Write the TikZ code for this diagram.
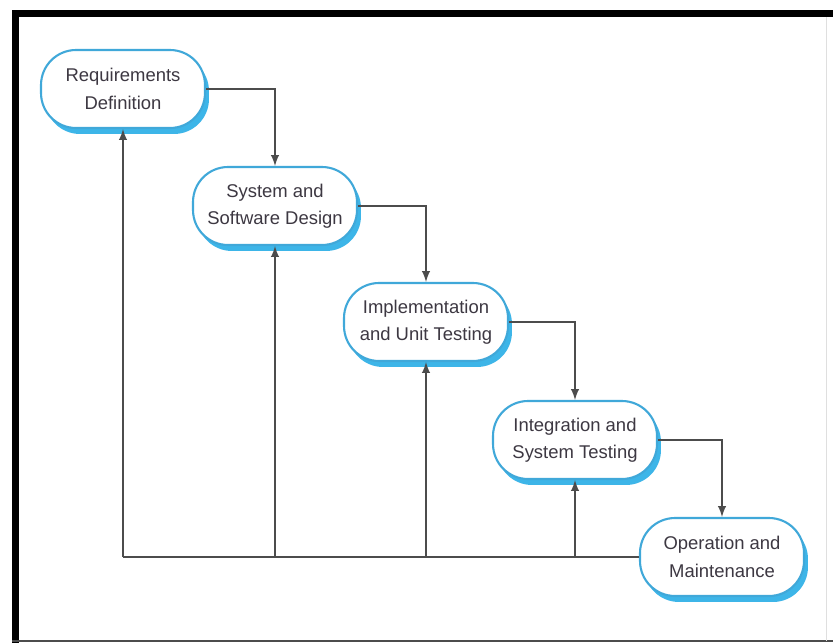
\documentclass[tikz,border=0pt]{standalone}
\usepackage{fontspec}
\setmainfont{Liberation Sans}
\usepackage{tikz}
\usetikzlibrary{arrows,shadows}
\definecolor{phaseblue}{rgb}{0.25,0.66,0.85}
\definecolor{shadeblue}{rgb}{0.24,0.71,0.91}
\definecolor{linegray}{rgb}{0.3,0.3,0.3}
\definecolor{textgray}{rgb}{0.24,0.22,0.26}

\begin{document}
\begin{tikzpicture}[x=0.02cm,y=-0.02cm,
	phase/.style={draw=phaseblue, line width=1.2pt, fill=white, rounded corners=0.7cm,
		minimum width=3.28cm, minimum height=1.56cm, align=center, text=textgray,
		font=\fontsize{10.5}{15.5}\selectfont,
		drop shadow={shadow xshift=0.08cm, shadow yshift=-0.12cm, fill=shadeblue, opacity=1}},
	flow/.style={draw=linegray, line width=1.1pt, -latex}]
	\useasboundingbox (0,0) rectangle (833,643);
	\fill[white] (0,0) rectangle (833,643);

	% frame
	\fill[black] (12,10) rectangle (833,17);
	\fill[black] (12,10) rectangle (19,643);
	\draw[linegray, line width=1.5pt] (12,641) -- (833,641);
	\draw[gray!25, line width=0.5pt] (826,17) -- (826,641);

	\node[phase] (req) at (123,89) {Requirements\\Definition};
	\node[phase] (sys) at (275,206) {System and\\Software Design};
	\node[phase] (impl) at (426,322) {Implementation\\and Unit Testing};
	\node[phase] (integ) at (575,440) {Integration and\\System Testing};
	\node[phase] (oper) at (722,557) {Operation and\\Maintenance};

	\draw[flow] (req.east) -| (sys.north);
	\draw[flow] (sys.east) -| (impl.north);
	\draw[flow] (impl.east) -| (integ.north);
	\draw[flow] (integ.east) -| (oper.north);

	% feedback
	\draw[linegray, line width=1.1pt] (oper.west) -- (req.south |- oper.west);
	\draw[flow] (req.south |- oper.west) -- (req.south);
	\draw[flow] (sys.south |- oper.west) -- (sys.south);
	\draw[flow] (impl.south |- oper.west) -- (impl.south);
	\draw[flow] (integ.south |- oper.west) -- (integ.south);

\end{tikzpicture}
\end{document}
